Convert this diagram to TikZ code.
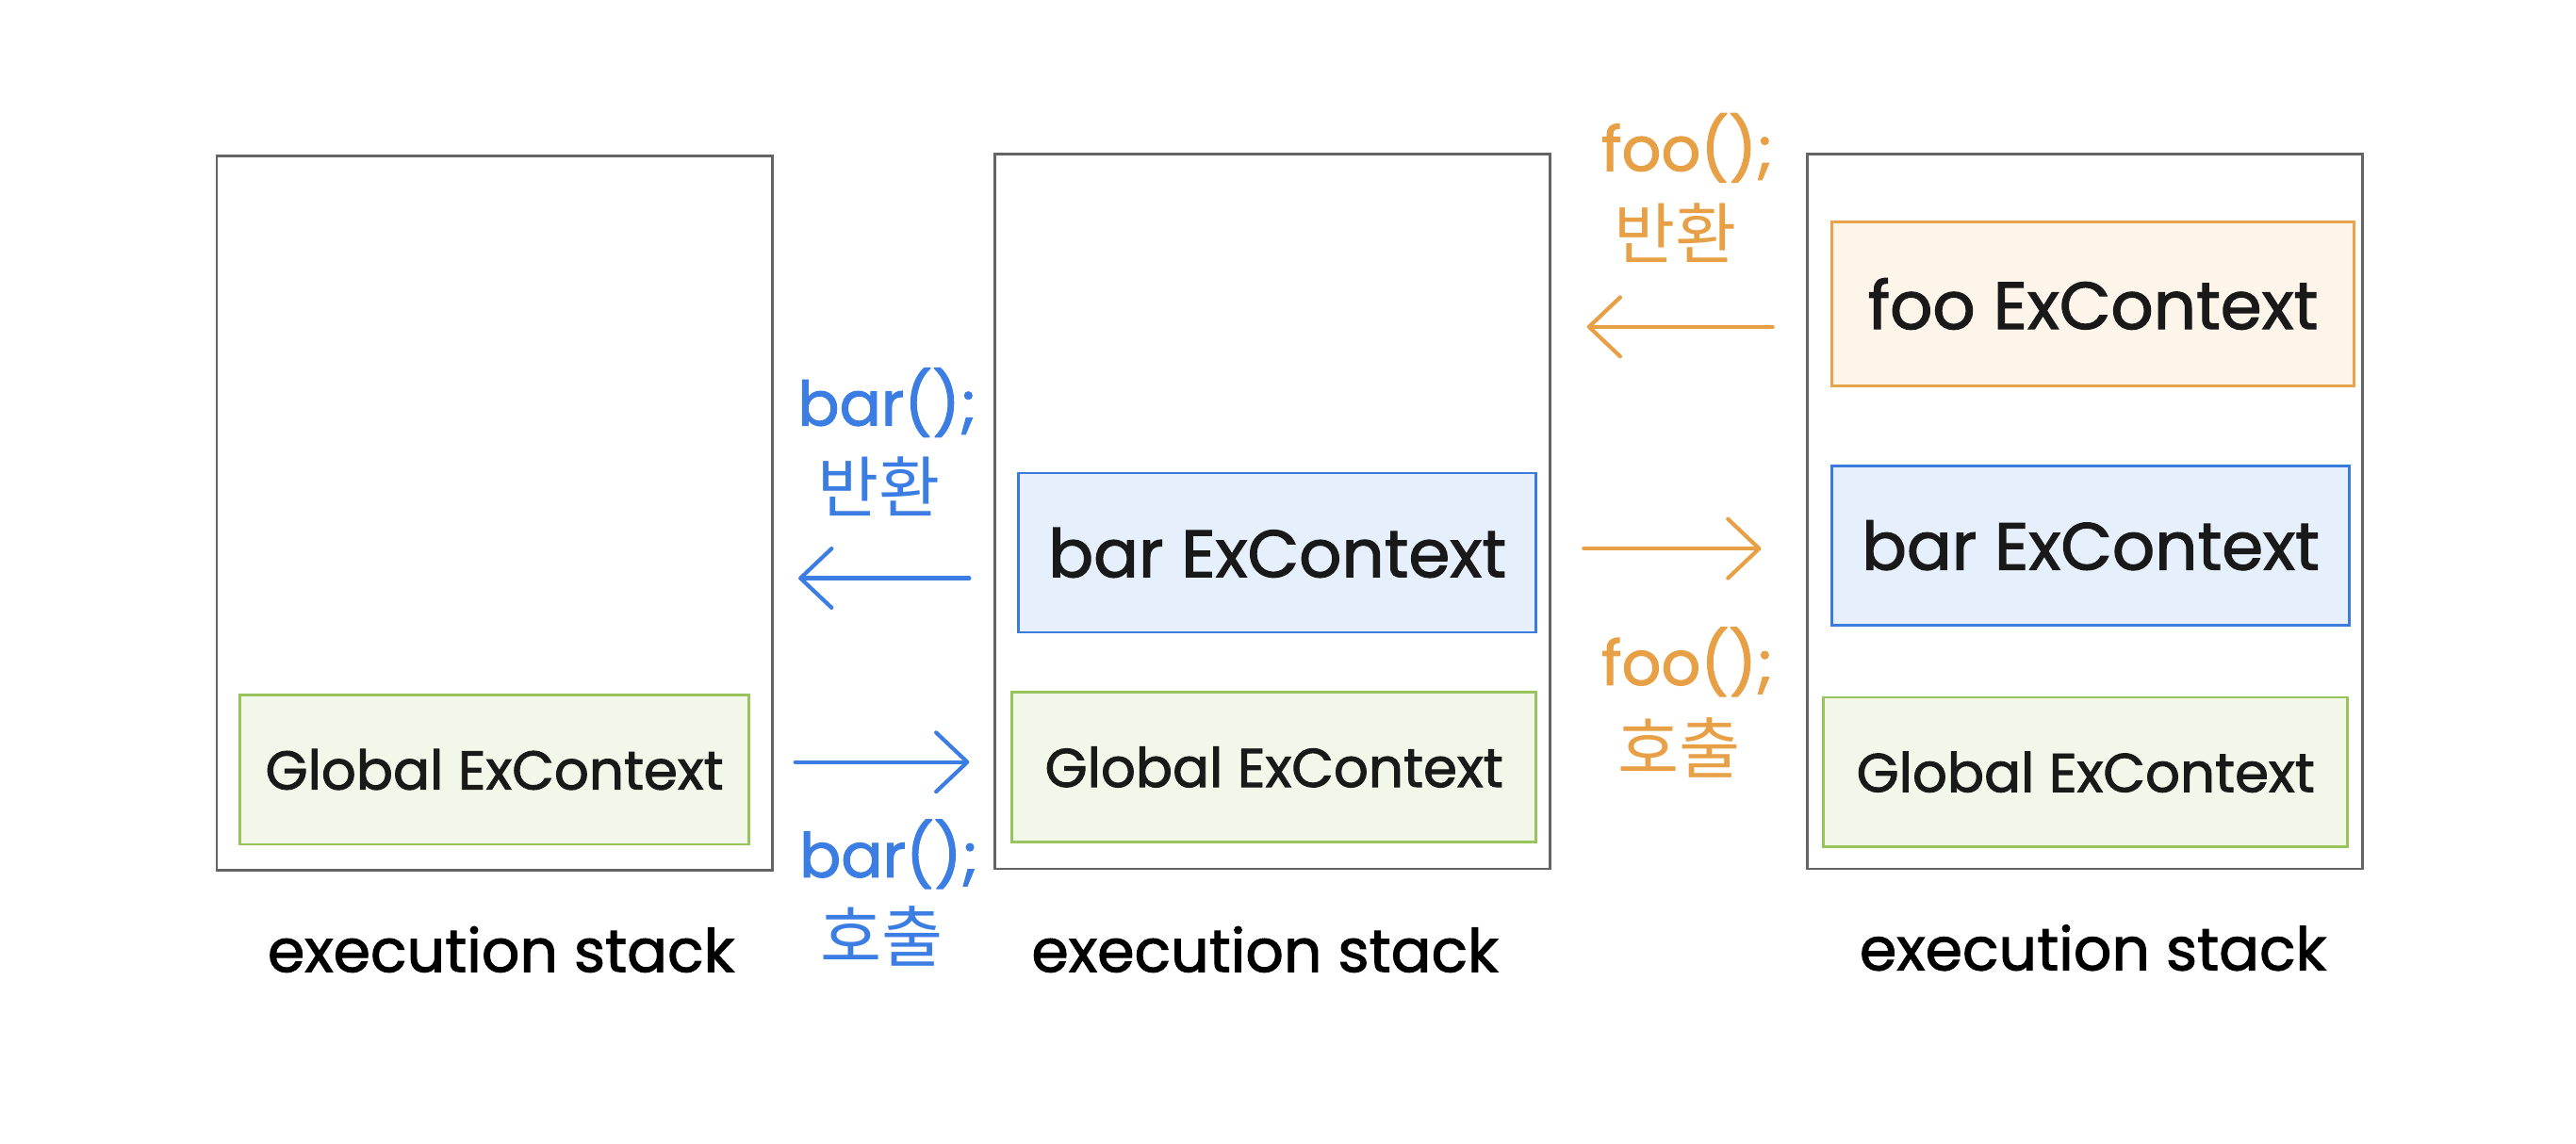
\documentclass[tikz,border=0pt]{standalone}
\usepackage{fontspec}
\setmainfont{Poppins}[FakeBold=1.6]
\newfontfamily\kor{Noto Sans CJK KR}
\usetikzlibrary{arrows.meta}
\definecolor{stackgray}{HTML}{646464}
\definecolor{callblue}{HTML}{3B7DE3}
\definecolor{callorange}{HTML}{E8A046}
\definecolor{globalline}{HTML}{98C45E}
\definecolor{globalfill}{HTML}{F2F7EA}
\definecolor{barline}{HTML}{3B7BDB}
\definecolor{barfill}{HTML}{E6F0FC}
\definecolor{fooline}{HTML}{E8A44C}
\definecolor{foofill}{HTML}{FDF4EA}

\begin{document}
\begin{tikzpicture}[x=0.5pt,y=-0.5pt,
  stackbox/.style={draw=stackgray,line width=0.8pt,minimum width=169pt,minimum height=217.5pt,inner sep=0pt},
  ctxbox/.style={line width=0.8pt,inner sep=0pt,text=black!90},
  globalbox/.style={ctxbox,draw=globalline,fill=globalfill,minimum height=45.5pt,font=\fontsize{16.6}{19}\selectfont},
  barbox/.style={ctxbox,draw=barline,fill=barfill,minimum width=157.5pt,minimum height=48.5pt,font=\fontsize{20.3}{23}\selectfont},
  foobox/.style={ctxbox,draw=fooline,fill=foofill,minimum width=159pt,minimum height=50pt,font=\fontsize{20.3}{23}\selectfont},
  stacklabel/.style={font=\fontsize{18.2}{21}\selectfont},
  codelabel/.style={font=\fontsize{18.8}{22}\selectfont},
  korlabel/.style={font=\kor\fontsize{20.3}{24}\selectfont},
  callarrow/.style={line width=1.2pt,line cap=round,-{Straight Barb[length=9.5pt,width=18pt,round]}}
]
\useasboundingbox (0,0) rectangle (1568,696);

\node[stackbox] (stackA) at (301,312.5) {};
\node[stackbox] (stackB) at (774.5,311.5) {};
\node[stackbox] (stackC) at (1269,311.5) {};

\node[globalbox,minimum width=155pt] (globalA) at (301,468.5) {Global ExContext};
\node[barbox] (barB) at (777.5,336.5) {bar ExContext};
\node[globalbox,minimum width=159.5pt] (globalB) at (775.5,467) {Global ExContext};
\node[foobox] (fooC) at (1274,185) {foo ExContext};
\node[barbox] (barC) at (1272.5,332) {bar ExContext};
\node[globalbox,minimum width=159.5pt] (globalC) at (1269.5,470) {Global ExContext};

\node[stacklabel] (labelA) at (305,578) {execution stack};
\node[stacklabel] (labelB) at (770,578) {execution stack};
\node[stacklabel] (labelC) at (1274,577) {execution stack};

\coordinate (barRetS) at (590,352);
\coordinate (barRetE) at (486,352);
\coordinate (barCallS) at (484,464);
\coordinate (barCallE) at (590,464);
\coordinate (fooRetS) at (1079,199);
\coordinate (fooRetE) at (966,199);
\coordinate (fooCallS) at (964,334);
\coordinate (fooCallE) at (1072,334);

\draw[callarrow,callblue] (barRetS) -- (barRetE);
\draw[callarrow,callblue] (barCallS) -- (barCallE);
\draw[callarrow,callorange] (fooRetS) -- (fooRetE);
\draw[callarrow,callorange] (fooCallS) -- (fooCallE);

\node[codelabel,text=callblue] (barRetCode) at (540,245) {bar();};
\node[korlabel,text=callblue] (barRetWord) at (535,296) {반환};
\node[codelabel,text=callblue] (barCallCode) at (541,520) {bar();};
\node[korlabel,text=callblue] (barCallWord) at (537,570) {호출};
\node[codelabel,text=callorange] (fooRetCode) at (1027,90) {foo();};
\node[korlabel,text=callorange] (fooRetWord) at (1020,142) {반환};
\node[codelabel,text=callorange] (fooCallCode) at (1027,403) {foo();};
\node[korlabel,text=callorange] (fooCallWord) at (1022,455) {호출};
\end{tikzpicture}
\end{document}
